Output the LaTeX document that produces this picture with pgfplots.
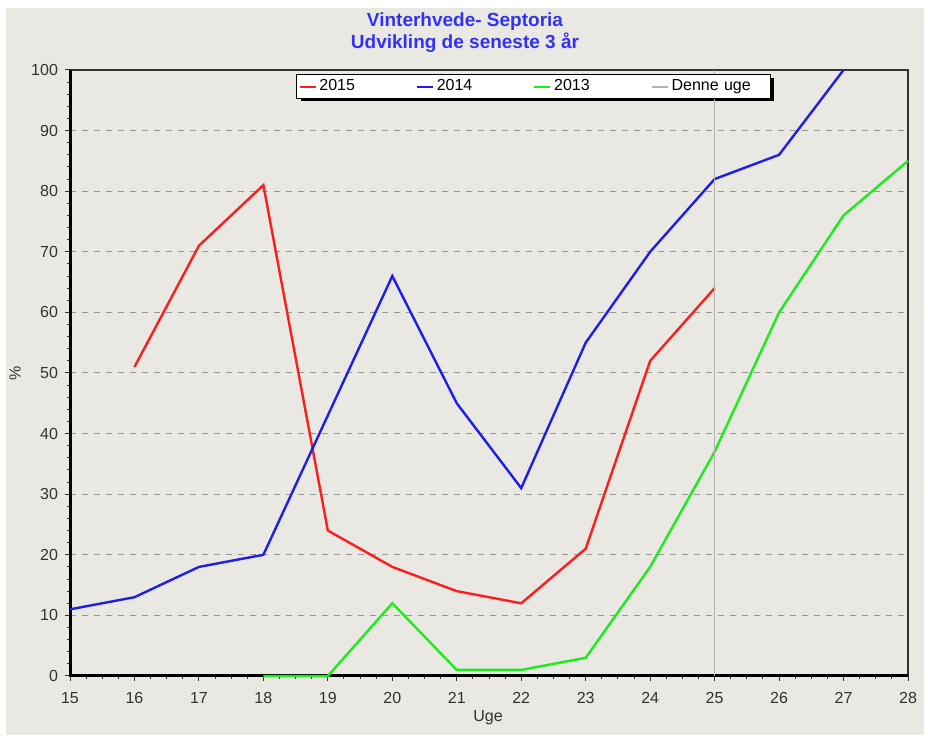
\documentclass[border=0pt]{standalone}
\usepackage{pgfplots}
\pgfplotsset{compat=1.18}
\usepackage{fontspec}
\setmainfont{Liberation Sans}
\definecolor{bg}{RGB}{233,232,226}
\definecolor{tred}{RGB}{250,30,30}
\definecolor{tblue}{RGB}{30,30,235}
\definecolor{tgreen}{RGB}{30,235,30}
\definecolor{ttitle}{RGB}{50,50,245}
\definecolor{tlab}{RGB}{50,50,50}
\begin{document}
\begin{tikzpicture}
\fill[white] (0,0) rectangle (464pt,369pt);
\fill[bg] (3pt,1.5pt) rectangle (462pt,365pt);
\node[font=\fontsize{9.5}{11}\selectfont\bfseries, text=ttitle, align=center] at (232.5pt,352.5pt) {Vinterhvede- Septoria\\Udvikling de seneste 3 år};
\node[font=\fontsize{8}{9}\selectfont, text=tlab, rotate=90] at (7.5pt,182.5pt) {\%};
\node[font=\fontsize{8}{9}\selectfont, text=tlab] at (244pt,10pt) {Uge};
\begin{axis}[
  at={(35pt,31pt)}, anchor=origin,
  scale only axis, width=419pt, height=303pt,
  xmin=15, xmax=28, ymin=0, ymax=100,
  xtick={15,...,28}, ytick={0,10,...,100},
  minor x tick num=3, minor y tick num=4,
  xtick pos=bottom, ytick pos=left,
  tick align=outside, major tick length=2.5pt, minor tick length=1.5pt,
  tick style={tlab, line width=0.5pt},
  ticklabel style={font=\fontsize{8}{9}\selectfont, text=tlab},
  /pgf/number format/assume math mode=true,
  xticklabel style={yshift=-2pt},
  axis line style={black!80, line width=0.6pt},
  ymajorgrids, major grid style={gray!80, dashed, line width=0.5pt},
  clip=false,
  legend columns=4,
  legend style={at={(0.553,0.993)}, anchor=north, draw=black, line width=0.5pt, fill=white,
    font=\fontsize{8}{9}\selectfont, inner sep=1pt},
  legend cell align=left,
  legend image code/.code={\draw[#1, line width=0.9pt] (0pt,0pt) -- (8pt,0pt);},
  every axis legend/.append style={nodes={text width=46.8pt, inner sep=1.5pt}},
]
\fill[black] (rel axis cs:0.2757,0.987) rectangle (rel axis cs:0.840,0.9488);
\draw[black, line width=1.5pt] (rel axis cs:0,1) -- (rel axis cs:0,0) -- (rel axis cs:1,0);
\addplot[tred, line width=1.2pt] coordinates {(16,51) (17,71) (18,81) (19,24) (20,18) (21,14) (22,12) (23,21) (24,52) (25,64)};
\addlegendentry{2015}
\addplot[tblue, line width=1.2pt] coordinates {(15,11) (16,13) (17,18) (18,20) (19,43) (20,66) (21,45) (22,31) (23,55) (24,70) (25,82) (26,86) (27,100)};
\addlegendentry{2014}
\addplot[tgreen, line width=1.2pt] coordinates {(18,0) (19,0) (20,12) (21,1) (22,1) (23,3) (24,18) (25,37) (26,60) (27,76) (28,85)};
\addlegendentry{2013}
\addplot[gray!60, line width=0.5pt] coordinates {(25,0) (25,100)};
\addlegendentry{Denne uge}
\end{axis}
\end{tikzpicture}
\end{document}
